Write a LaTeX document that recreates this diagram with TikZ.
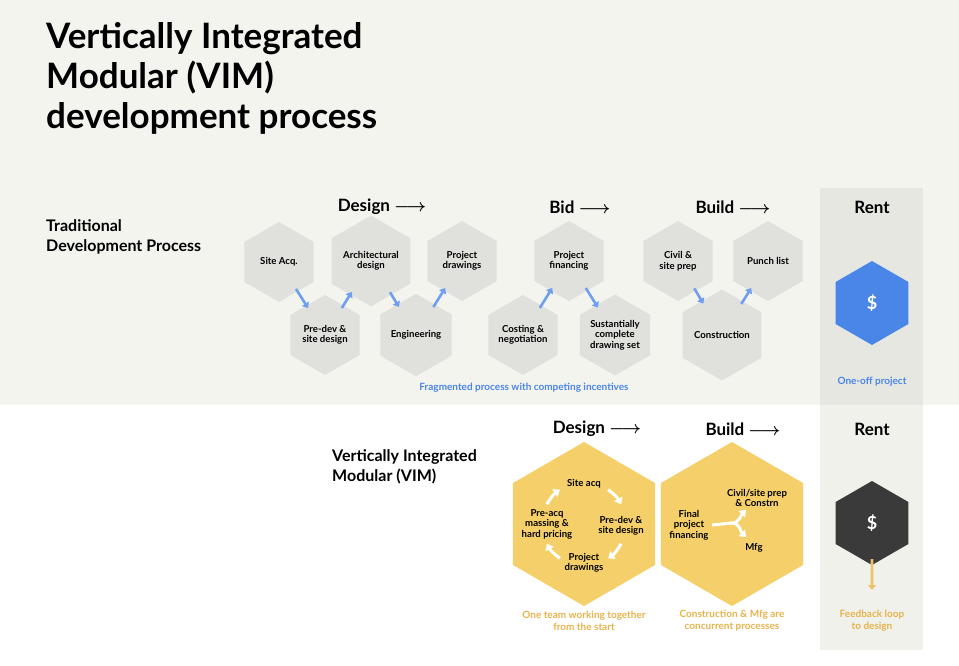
\documentclass[tikz,border=0pt]{standalone}
\usepackage{amsmath}
\usepackage{fontspec}
\setmainfont{Lato}
\usetikzlibrary{shapes.geometric,arrows.meta}
\definecolor{topbg}{HTML}{F4F4EF}
\definecolor{rentbg}{HTML}{E7E7E2}
\definecolor{rentbg2}{HTML}{F1F1EC}
\definecolor{hexg}{HTML}{E0E0DC}
\definecolor{blu}{HTML}{4A86E8}
\definecolor{yel}{HTML}{F5D06A}
\definecolor{org}{HTML}{E8B34B}
\definecolor{dark}{HTML}{3A3A3A}
\begin{document}
\begin{tikzpicture}[x=1pt,y=-1pt,
  hex/.style={regular polygon,regular polygon sides=6,shape border rotate=30,minimum size=80pt,inner sep=0pt,fill=hexg,font=\fontsize{9.6}{10.5}\selectfont\bfseries,align=center,text=black},
  big/.style={regular polygon,regular polygon sides=6,shape border rotate=30,minimum size=164pt,inner sep=0pt,fill=yel},
  sm/.style={font=\fontsize{9.6}{10.5}\selectfont\bfseries,align=center},
  ttl/.style={font=\fontsize{17}{19}\selectfont\bfseries},
  barrow/.style={draw=blu!80,line width=2.6pt,-{Triangle[length=5pt,width=8pt]},shorten <=-3pt,shorten >=-3pt},
  warrow/.style={draw=white,line width=3pt,-{Triangle[length=6pt,width=9pt]}},
  capt/.style={font=\fontsize{10}{12}\selectfont\bfseries,align=center}]
\useasboundingbox (0,0) rectangle (959,665);
\fill[white] (0,0) rectangle (959,665);
\fill[topbg] (0,0) rectangle (959,405);
\fill[rentbg] (820,188) rectangle (923,405);
\fill[rentbg2] (820,405) rectangle (923,650);
% title
\node[anchor=north west,align=left,font=\fontsize{35}{40}\selectfont\bfseries,inner sep=0pt] (title) at (46,22) {Vertically Integrated\\Modular (VIM)\\development process};
\node[anchor=north west,align=left,font=\fontsize{16}{20}\selectfont\bfseries,inner sep=0pt] (trad) at (46,219) {Traditional\\Development Process};
\node[anchor=north west,align=left,font=\fontsize{16}{20}\selectfont\bfseries,inner sep=0pt] (vimlbl) at (332,449) {Vertically Integrated\\Modular (VIM)};
% column titles
\node[ttl] (t1) at (382,207) {Design $\boldsymbol{\longrightarrow}$};
\node[ttl] (t2) at (580,207) {Bid $\boldsymbol{\longrightarrow}$};
\node[ttl] (t3) at (733,207) {Build $\boldsymbol{\longrightarrow}$};
\node[ttl] (t4) at (872,207) {Rent};
\node[ttl] (b1) at (597,429) {Design $\boldsymbol{\longrightarrow}$};
\node[ttl] (b2) at (743,429) {Build $\boldsymbol{\longrightarrow}$};
\node[ttl] (b3) at (872,429) {Rent};
% traditional hexes
\node[hex] (sa) at (279,262) {Site Acq.};
\node[hex] (pd) at (325,335) {Pre-dev \&\\site design};
\node[hex] (ad) at (371,261) {Architectural\\design};
\node[hex] (en) at (416,335) {Engineering};
\node[hex] (pj) at (462,261) {Project\\drawings};
\node[hex] (co) at (523,335) {Costing \&\\negotiation};
\node[hex] (pf) at (569,261) {Project\\financing};
\node[hex] (su) at (615,335) {Sustantially\\complete\\drawing set};
\node[hex] (ci) at (678,261) {Civil \&\\site prep};
\node[hex] (cn) at (722,335) {Construction};
\node[hex] (pl) at (768,261) {Punch list};
\draw[barrow] (sa) -- (pd);
\draw[barrow] (pd) -- (ad);
\draw[barrow] (ad) -- (en);
\draw[barrow] (en) -- (pj);
\draw[barrow] (co) -- (pf);
\draw[barrow] (pf) -- (su);
\draw[barrow] (ci) -- (cn);
\draw[barrow] (cn) -- (pl);
\node[capt,text=blu] (frag) at (524,388) {Fragmented process with competing incentives};
\node[hex,fill=blu,minimum size=84pt,text=white,font=\fontsize{18}{20}\selectfont\bfseries] (rent1) at (872,303) {\$};
\node[capt,text=blu] (oneoff) at (872,382) {One-off project};
% VIM
\node[big] (dh) at (584,524) {};
\node[big] (bh) at (732,524) {};
\node[sm] (s1) at (584,484) {Site acq};
\node[sm] (s2) at (621,526) {Pre-dev \&\\site design};
\node[sm] (s3) at (584,563) {Project\\drawings};
\node[sm] (s4) at (547,524) {Pre-acq\\massing \&\\hard pricing};
\coordinate (cc) at (584,524);
\draw[warrow] ([shift={(-55:42)}]cc) arc[start angle=-55,end angle=-28,radius=42];
\draw[warrow] ([shift={(28:42)}]cc) arc[start angle=28,end angle=55,radius=42];
\draw[warrow] ([shift={(125:42)}]cc) arc[start angle=125,end angle=152,radius=42];
\draw[warrow] ([shift={(208:42)}]cc) arc[start angle=208,end angle=235,radius=42];
\node[sm] (fp) at (689,525) {Final\\project\\financing};
\node[sm] (cv) at (757,498) {Civil/site prep\\\& Constrn};
\node[sm] (mf) at (754,548) {Mfg};
\coordinate (fork) at (732,523);
\draw[white,line width=3pt] (fp.east) -- (fork);
\draw[warrow] (fork) to[out=0,in=225] (746,510);
\draw[warrow] (fork) to[out=0,in=135] (746,537);
\node[hex,fill=dark,minimum size=84pt,text=white,font=\fontsize{18}{20}\selectfont\bfseries] (rent2) at (872,523) {\$};
\coordinate (fbend) at (872,590);
\draw[draw=org!80,line width=2.6pt,-{Triangle[length=5pt,width=8pt]}] ([yshift=6pt]rent2.south) -- (fbend);
\node[capt,text=org] (c1) at (584,621) {One team working together\\from the start};
\node[capt,text=org] (c2) at (732,621) {Construction \& Mfg are\\concurrent processes};
\node[capt,text=org] (c3) at (872,621) {Feedback loop\\to design};
\end{tikzpicture}
\end{document}
